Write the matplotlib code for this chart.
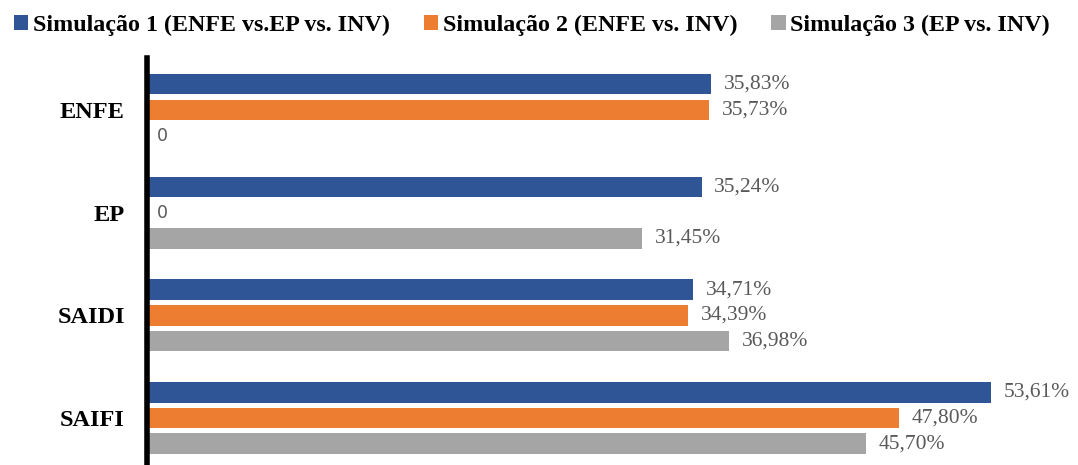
import matplotlib.pyplot as plt
import numpy as np

categorias = ['ENFE', 'EP', 'SAIDI', 'SAIFI']
series = ['Simulação 1 (ENFE vs.EP vs. INV)',
          'Simulação 2 (ENFE vs. INV)',
          'Simulação 3 (EP vs. INV)']
sim1 = [35.83, 35.24, 34.71, 53.61]
sim2 = [35.73, 0, 34.39, 47.80]
sim3 = [0, 31.45, 36.98, 45.70]
rotulos1 = ['35,83%', '35,24%', '34,71%', '53,61%']
rotulos2 = ['35,73%', '0', '34,39%', '47,80%']
rotulos3 = ['0', '31,45%', '36,98%', '45,70%']

cores = ['#2F5597', '#ED7D31', '#A5A5A5']

fig = plt.figure(figsize=(10.78, 4.65), dpi=100)
ax = fig.add_axes([147 / 1078, 0, (1060 - 147) / 1078, 407 / 465])

y = np.arange(len(categorias))
dados = [sim1, sim2, sim3]
rotulos = [rotulos1, rotulos2, rotulos3]
for i in range(3):
    pos = y + (i - 1) * 0.25
    ax.barh(pos, dados[i], height=0.2, color=cores[i], label=series[i])
    for p, v, r in zip(pos, dados[i], rotulos[i]):
        if r == '0':
            ax.text(v + 0.6, p, r, va='center', ha='left', fontsize=12.5,
                    color='#595959', family='DejaVu Sans')
        else:
            ax.text(v + 0.8, p, r, va='center', ha='left', fontsize=15.5,
                    color='#595959', family='Liberation Serif')

ax.set_xlim(0, 58)
ax.set_ylim(3.458, -0.505)
ax.set_yticks(y)
ax.set_yticklabels(categorias, family='Liberation Serif', fontweight='bold',
                   fontsize=17.5)
ax.tick_params(axis='y', length=0, pad=16)
ax.set_xticks([])
for s in ['top', 'right', 'bottom']:
    ax.spines[s].set_visible(False)
ax.spines['left'].set_linewidth(4)
ax.spines['left'].set_color('black')

fig.legend(loc='upper center', bbox_to_anchor=(0.4935, 1.0), ncol=3, frameon=False,
           prop={'family': 'Liberation Serif', 'weight': 'bold', 'size': 17.3},
           handlelength=0.6, handleheight=0.6, handletextpad=0.2,
           columnspacing=1.4, borderaxespad=0.2)

fig.savefig('out.png', dpi=100)
